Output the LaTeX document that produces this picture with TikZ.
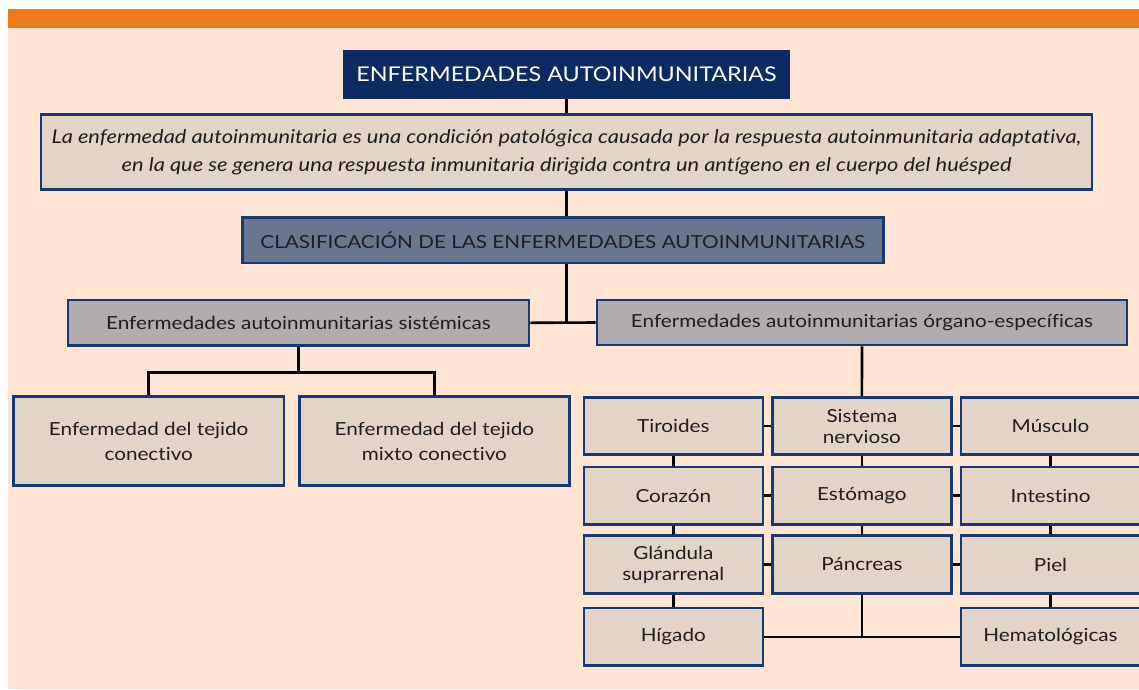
\documentclass[tikz,border=0pt]{standalone}
\usepackage{fontspec}
\setmainfont{Lato}[FakeStretch=1.15, Ligatures=NoCommon]

\definecolor{naranja}{HTML}{EE7A1B}
\definecolor{fondo}{HTML}{FDE4D3}
\definecolor{marino}{HTML}{0C2B60}
\definecolor{borde}{HTML}{173A74}
\definecolor{beige}{HTML}{E3D4C8}
\definecolor{pizarra}{HTML}{68778F}
\definecolor{gris}{HTML}{B1ACAF}
\definecolor{texto}{HTML}{1E1E1E}

\begin{document}
\begin{tikzpicture}[x=1pt,y=-1pt,
    caja/.style={draw=borde, line width=2.6pt, fill=beige, text=texto, inner sep=0pt,
      align=center, font=\fontsize{18}{21}\selectfont},
    organo/.style={caja, minimum width=179pt, minimum height=57.5pt},
    linea/.style={draw=black, line width=2.6pt}]
    \useasboundingbox (0,0) rectangle (1139,689);
    \fill [fondo] (8,28) rectangle (1139,689);
    \fill [naranja] (8,9) rectangle (1139,28);

    % cabecera
    \node [fill=marino, text=white, inner sep=0pt, minimum width=447pt, minimum height=48.7pt,
      font=\fontsize{20.3}{24}\selectfont] (titulo) at (566.5,74.3) {ENFERMEDADES AUTOINMUNITARIAS};
    \node [caja, minimum width=1051pt, minimum height=75pt, font=\itshape\fontsize{19}{28}\selectfont]
      (defin) at (566.5,152) {La enfermedad autoinmunitaria es una condición patológica causada por la respuesta autoinmunitaria adaptativa,\\
      en la que se genera una respuesta inmunitaria dirigida contra un antígeno en el cuerpo del huésped};
    \node [caja, fill=pizarra, minimum width=641pt, minimum height=45.5pt, font=\fontsize{18}{22}\selectfont]
      (clasif) at (562.75,240.25) {CLASIFICACIÓN DE LAS ENFERMEDADES AUTOINMUNITARIAS};

    % dos grupos
    \node [caja, fill=gris, minimum width=461pt, minimum height=45.6pt] (sistem) at (298.5,322.8) {Enfermedades autoinmunitarias sistémicas};
    \node [caja, fill=gris, minimum width=530pt, minimum height=45pt] (orgesp) at (862,322.5) {Enfermedades autoinmunitarias órgano-específicas};

    \node [caja, minimum width=270.7pt, minimum height=89pt, font=\fontsize{18}{25}\selectfont] (conec) at (148.7,441.2) {Enfermedad del tejido\\ conectivo};
    \node [caja, minimum width=270pt, minimum height=89pt, font=\fontsize{18}{25}\selectfont] (mixto) at (434.3,441.2) {Enfermedad del tejido\\ mixto conectivo};

    % organos
    \node [organo] (tiro) at (673.3,426) {Tiroides};
    \node [organo] (sisn) at (861.9,426) {Sistema\\ nervioso};
    \node [organo] (musc) at (1050.5,426) {Músculo};
    \node [organo] (cora) at (673.3,495.7) {Corazón};
    \node [organo] (esto) at (861.9,495.7) {Estómago};
    \node [organo] (inte) at (1050.5,495.7) {Intestino};
    \node [organo] (glan) at (673.3,564.5) {Glándula\\ suprarrenal};
    \node [organo] (panc) at (861.9,564.5) {Páncreas};
    \node [organo] (piel) at (1050.5,564.5) {Piel};
    \node [organo] (higa) at (673.3,636.8) {Hígado};
    \node [organo] (hema) at (1050.5,636.8) {Hematológicas};

    % conectores
    \coordinate (barra) at (0,372.7);
    \draw [linea] (titulo.south) -- (titulo.south |- defin.north);
    \draw [linea] (titulo.south |- defin.south) -- (titulo.south |- clasif.north);
    \draw [linea] (titulo.south |- clasif.south) -- (titulo.south |- sistem.east);
    \draw [linea] (sistem.east) -- (orgesp.west);
    \draw [linea] (sistem.south) -- (sistem.south |- barra);
    \draw [linea] (conec.north) -- (conec.north |- barra) -- (mixto.north |- barra) -- (mixto.north);
    \draw [linea] (orgesp.south) -- (sisn.north);

    \draw [linea] (tiro) -- (sisn);
    \draw [linea] (sisn) -- (musc);
    \draw [linea] (cora) -- (esto);
    \draw [linea] (esto) -- (inte);
    \draw [linea] (glan) -- (panc);
    \draw [linea] (panc) -- (piel);
    \draw [linea] (tiro) -- (cora);
    \draw [linea] (cora) -- (glan);
    \draw [linea] (glan) -- (higa);
    \draw [linea] (sisn) -- (esto);
    \draw [linea] (esto) -- (panc);
    \draw [linea] (musc) -- (inte);
    \draw [linea] (inte) -- (piel);
    \draw [linea] (piel) -- (hema);
    \draw [linea] (higa) -- (hema);
    \draw [linea] (panc.south) -- (panc.south |- higa);
\end{tikzpicture}
\end{document}
